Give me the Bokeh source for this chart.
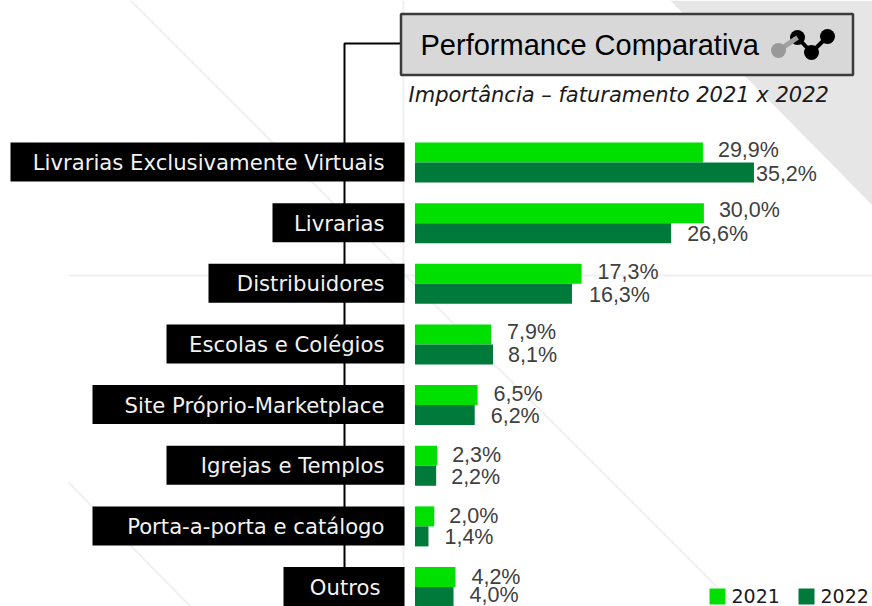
from bokeh.plotting import figure
from bokeh.models import Range1d
from bokeh.core.properties import value
from bokeh.embed import file_html
from bokeh.resources import INLINE

categories = ["Livrarias Exclusivamente Virtuais", "Livrarias", "Distribuidores", "Escolas e Colégios",
              "Site Próprio-Marketplace", "Igrejas e Templos", "Porta-a-porta e catálogo", "Outros"]
values_2021 = [29.9, 30.0, 17.3, 7.9, 6.5, 2.3, 2.0, 4.2]
values_2022 = [35.2, 26.6, 16.3, 8.1, 6.2, 2.2, 1.4, 4.0]
series_names = ["2021", "2022"]
title_text = "Performance Comparativa"
subtitle_text = "Importância – faturamento 2021 x 2022"

# layout: page pixels of the reference
PX_PER_UNIT = 9.63
X0 = 414.5
GROUP_Y0 = 162.0
GROUP_STEP = 60.65
label_box_left = [10, 272, 208, 166, 92, 166, 92, 283]
label_text_right = [384, 384, 384, 384, 384, 384, 384, 380]
value_offset_2021 = [15, 15, 16, 16, 16, 15, 15, 16]
value_offset_2022 = [2, 16, 17, 15, 16, 15, 16, 16]
value_yshift_2021 = [0, 0, 1, 1, 2, 2, 3, 3]
value_yshift_2022 = [0, 0, 0, 0, 0, 0, 0, -3]
GREEN = "#00e000"
DARK = "#007a3a"
FONT = "DejaVu Sans"

def X(px):
    return (px - X0) / PX_PER_UNIT

def Y(py):
    return (py - GROUP_Y0) / GROUP_STEP

p = figure(width=872, height=606, output_backend="svg", toolbar_location=None,
           x_axis_location=None, y_axis_location=None,
           x_range=Range1d(X(0), X(872)), y_range=Range1d(Y(606), Y(0)),
           min_border=0, outline_line_color=None, background_fill_color="white")
p.grid.visible = False

# decoration
p.patch([X(670), X(872), X(872)], [Y(0), Y(0), Y(205)], fill_color="#e6e6e6", line_color=None)
for xs, ys in [((130, 736), (0, 606)), ((68, 190), (482, 606)), ((68, 872), (275, 275)), ((403, 403), (0, 606))]:
    p.line([X(v) for v in xs], [Y(v) for v in ys], line_color="#f0f0f0", line_width=2)

# connector
p.line([X(400), X(344), X(344)], [Y(43), Y(43), Y(570)], line_color="#000000", line_width=2)

# title box
p.quad(left=X(400.5), right=X(852.5), top=Y(13.5), bottom=Y(74.5), fill_color="#d8d8d8",
       line_color="#3a3a3a", line_width=2.5)
p.text([X(420)], [Y(44)], text=[title_text], text_font=value("Liberation Sans"), text_font_size="29px",
       text_color="#000000", text_baseline="middle", text_align="left")
p.line([X(797), X(811), X(827)], [Y(37), Y(52), Y(36)], line_color="#000000", line_width=4)
p.scatter([X(797), X(811), X(827)], [Y(37), Y(52), Y(36)], size=15, fill_color="#000000", line_color=None)
p.line([X(778), X(797)], [Y(50), Y(37)], line_color="#a0a0a0", line_width=5)
p.scatter([X(778)], [Y(50)], size=15, fill_color="#999999", line_color=None)
p.text([X(408)], [Y(94)], text=[subtitle_text], text_font=value(FONT), text_font_style="italic",
       text_font_size="21px", text_color="#1a1a1a", text_baseline="middle", text_align="left")

# category labels
idx = list(range(len(categories)))
p.quad(left=[X(v) for v in label_box_left], right=[X(404)] * 8,
       top=[i - 20 / GROUP_STEP for i in idx], bottom=[i + 19 / GROUP_STEP for i in idx],
       fill_color="#000000", line_color=None)
p.text([X(v) for v in label_text_right], idx, text=categories, text_font=value(FONT),
       text_font_size="21.2px", text_color="#f2f2f2", text_align="right", text_baseline="middle")

# bars
H = 20 / GROUP_STEP
p.hbar(y=[i - H / 2 for i in idx], right=values_2021, left=0, height=H, fill_color=GREEN, line_color=None)
p.hbar(y=[i + H / 2 for i in idx], right=values_2022, left=0, height=H, fill_color=DARK, line_color=None)

# value labels
fmt = lambda v: f"{v:.1f}%".replace(".", ",")
p.text(values_2021, [i - 13 / GROUP_STEP for i in idx], text=[fmt(v) for v in values_2021], x_offset=value_offset_2021,
       y_offset=value_yshift_2021,
       text_font=value("Liberation Sans"), text_font_size="21.5px", text_color="#404040",
       text_baseline="middle", text_align="left")
p.text(values_2022, [i + 11 / GROUP_STEP for i in idx], text=[fmt(v) for v in values_2022], x_offset=value_offset_2022,
       y_offset=value_yshift_2022,
       text_font=value("Liberation Sans"), text_font_size="21.5px", text_color="#404040",
       text_baseline="middle", text_align="left")

# legend
p.quad(left=[X(709), X(798)], right=[X(725), X(814)], top=[Y(588)] * 2, bottom=[Y(604)] * 2,
       fill_color=[GREEN, DARK], line_color=None)
p.text([X(731), X(820)], [Y(595)] * 2, text=series_names, text_font=value(FONT), text_font_size="19px",
       text_color="#1a1a1a", text_baseline="middle", text_align="left")

open("out.html", "w").write(file_html(p, INLINE))
